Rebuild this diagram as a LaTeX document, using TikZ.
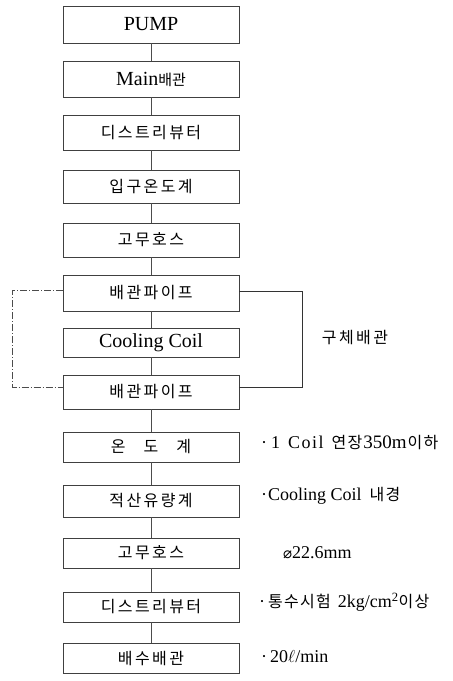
\documentclass[tikz,border=0pt]{standalone}
\usepackage{fontspec}
\setmainfont{Liberation Serif}
\newfontfamily\krs[LetterSpace=15]{Noto Sans CJK KR}
\newfontfamily\krw[LetterSpace=8]{Noto Sans CJK KR}
\newfontfamily\kr{Noto Sans CJK KR}
\newfontfamily\symf{DejaVu Sans}
\newcommand{\krn}[1]{{\krw\fontsize{16}{16}\selectfont #1}}
\begin{document}
\begin{tikzpicture}[x=1pt,y=-1pt,
  box/.style={draw=black!75, line width=0.7pt, minimum width=176pt, inner sep=0pt,
    font=\fontsize{20}{20}\selectfont},
  kbox/.style={box, font=\krs\fontsize{16}{16}\selectfont},
  link/.style={draw=black!70, line width=0.6pt},
  dloop/.style={draw=black!70, line width=0.6pt, dash pattern=on 7pt off 2pt on 1pt off 2pt},
  sloop/.style={draw=black!80, line width=0.7pt},
  note/.style={anchor=west, inner sep=0pt, font=\fontsize{18}{18}\selectfont}]
\useasboundingbox (0,0) rectangle (453,681);
\node[box,  minimum height=37] (n0)  at (151,24.5) {PUMP};
\node[box,  minimum height=36] (n1)  at (151,79)   {Main{\kr\fontsize{15}{15}\selectfont 배관}};
\node[kbox, minimum height=35] (n2)  at (151,132.5){디스트리뷰터};
\node[kbox, minimum height=33] (n3)  at (151,186.5){입구온도계};
\node[kbox, minimum height=34] (n4)  at (151,240)  {고무호스};
\node[kbox, minimum height=36] (n5)  at (151,293)  {배관파이프};
\node[box,  minimum height=29] (n6)  at (151,342.5){Cooling Coil};
\node[kbox, minimum height=34] (n7)  at (151,392)  {배관파이프};
\node[kbox, minimum height=30] (n8)  at (151,447)  {온\hspace{18pt}도\hspace{18pt}계};
\node[kbox, minimum height=32] (n9)  at (151,501)  {적산유량계};
\node[kbox, minimum height=30] (n10) at (151,553)  {고무호스};
\node[kbox, minimum height=30] (n11) at (151,607)  {디스트리뷰터};
\node[kbox, minimum height=30] (n12) at (151,658)  {배수배관};
\foreach \a/\b in {n0/n1,n1/n2,n2/n3,n3/n4,n4/n5,n5/n6,n6/n7,n7/n8,n8/n9,n9/n10,n10/n11,n11/n12}
  \draw[link] (\a.south) -- (\b.north);
\draw[dloop] ([yshift=3pt]n5.west) -- ++(-50,0) |- ([yshift=5pt]n7.west);
\draw[sloop] ([yshift=2pt]n5.east) -- ++(63,0) |- ([yshift=5pt]n7.east);
\node[font=\krs\fontsize{16}{16}\selectfont] (lab) at (355,338) {구체배관};
\node[note] (t1) at (261,443) {·\hspace{4pt}1\hspace{8pt}C\hspace{1.5pt}o\hspace{1.5pt}i\hspace{1.5pt}l\hspace{8pt}\krn{연장}\hspace{1pt}{\fontsize{19}{19}\selectfont 350m}\hspace{1pt}\krn{이하}};
\node[note] (t2) at (261,496) {·\hspace{1pt}Cooling Coil\hspace{8pt}\krn{내경}};
\node[note] (t3) at (283,553) {{\symf\fontsize{15}{15}\selectfont ⌀}22.6mm};
\node[note] (t4) at (259,602) {·\hspace{3pt}\krn{통수시험}\hspace{7pt}2kg/cm\textsuperscript{2}\krn{이상}};
\node[note] (t5) at (261,657) {·\hspace{3pt}20$\ell$/min};
\end{tikzpicture}
\end{document}
